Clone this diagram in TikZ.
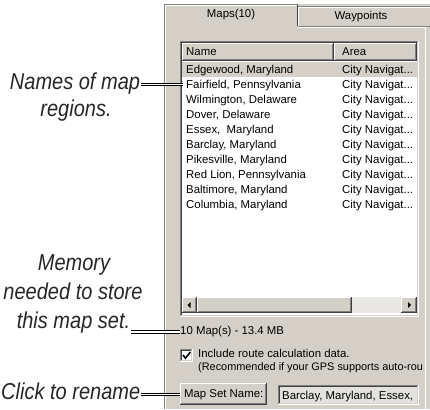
\documentclass[tikz,border=0pt]{standalone}
\usepackage{fontspec}
\setmainfont{Liberation Sans}
\newfontfamily\uifont{Liberation Sans}
\newfontfamily\labelfont[FakeStretch=0.87]{Liberation Sans}
\definecolor{face}{HTML}{D4D0C8}
\definecolor{wshade}{HTML}{808080}
\definecolor{wdark}{HTML}{404040}
\definecolor{track}{HTML}{E9E7E3}
\definecolor{lighter}{HTML}{E4E2DE}
\newcommand\rbox[4]{%
  \fill[face] (#1,#2) rectangle (#3,#4);
  \draw[white] (#1+0.5,#4-1) -- (#1+0.5,#2+0.5) -- (#3-1,#2+0.5);
  \draw[wdark] (#1,#4-0.5) -- (#3-0.5,#4-0.5) -- (#3-0.5,#2);
  \draw[wshade] (#1+1,#4-1.5) -- (#3-1.5,#4-1.5) -- (#3-1.5,#2+1);
}
\newcommand\sunkbox[5]{%
  \fill[#5] (#1,#2) rectangle (#3,#4);
  \draw[wshade] (#1+0.5,#4-1) -- (#1+0.5,#2+0.5) -- (#3-1,#2+0.5);
  \draw[wdark] (#1+1.5,#4-2) -- (#1+1.5,#2+1.5) -- (#3-2,#2+1.5);
  \draw[white] (#1,#4-0.5) -- (#3-0.5,#4-0.5) -- (#3-0.5,#2);
  \draw[face] (#1+1,#4-1.5) -- (#3-1.5,#4-1.5) -- (#3-1.5,#2+1);
}
\begin{document}
\begin{tikzpicture}[x=1pt,y=-1pt,
  ui/.style={font=\uifont\fontsize{11.4}{13}\selectfont, inner sep=0pt, text=black},
  lbl/.style={font=\labelfont\itshape\fontsize{23}{27}\selectfont, inner sep=1pt, text=black!85},
  leader/.style={line width=0.9pt, double=white, double distance=1.3pt}]
\useasboundingbox (0,0) rectangle (430,409);
% window background
\fill[face] (164,4) rectangle (430,409);
\draw[wshade] (164.5,409) -- (164.5,4.5) -- (297.5,4.5);
\draw[white] (165.5,409) -- (165.5,5.5) -- (296.5,5.5);
% tabs
\draw[wdark] (297.5,5) -- (297.5,26);
\draw[wshade] (298,6.5) -- (430,6.5);
\draw[white] (298.5,26) -- (298.5,7.5) -- (430,7.5);
\draw[wshade] (298,26.5) -- (430,26.5);
\draw[white] (298,27.5) -- (425,27.5);
\draw[white] (425.5,27) -- (425.5,409);
\node[ui] (tabmaps) at (231,15) {Maps(10)};
\node[ui] (tabway) at (361,17) {Waypoints};
% list box
\sunkbox{180}{41}{419}{317}{white}
\rbox{182}{43}{334}{61}
\rbox{334}{43}{417}{61}
\node[ui, anchor=base west] (hname) at (186,56) {Name};
\node[ui, anchor=base west] (harea) at (342,56) {Area};
\fill[face] (182,62.5) rectangle (417,77);
\foreach \i/\t in {0/{Edgewood, Maryland},1/{Fairfield, Pennsylvania},2/{Wilmington, Delaware},3/{Dover, Delaware},4/{Essex,~ Maryland},5/{Barclay, Maryland},6/{Pikesville, Maryland},7/{Red Lion, Pennsylvania},8/{Baltimore, Maryland},9/{Columbia, Maryland}}{
  \node[ui, anchor=base west] (row\i) at (186,{74+14.9*\i}) {\t};
  \node[ui, anchor=base west] (area\i) at (342,{74+14.9*\i}) {City Navigat...};
}
% scrollbar
\fill[track] (197,297) rectangle (401,313);
\rbox{182}{297}{197}{313}
\rbox{197}{297}{352}{313}
\rbox{401}{297}{417}{313}
\fill[black] (187.5,305) -- (190.5,302) -- (190.5,308) -- cycle;
\fill[black] (411,305) -- (408,302) -- (408,308) -- cycle;
% memory text
\node[ui, anchor=west] (maps10) at (180,332) {10 Map(s) - 13.4 MB};
% checkbox
\sunkbox{180}{349}{193}{362}{white}
\draw[line width=1.6pt] (183,355) -- (185.5,358.2) -- (190.3,352);
\node[ui, anchor=base west] (incl) at (198,357) {Include route calculation data.};
\node[ui, anchor=base west, font=\uifont\fontsize{10.9}{13}\selectfont] (recom) at (198,370) {(Recommended if your GPS supports auto-rou};
% map set name button and field
\rbox{180}{383}{267}{405}
\node[ui, minimum width=87pt, minimum height=22pt, anchor=north west] (msn) at (180,383) {Map Set Name:};
\sunkbox{278}{385}{419}{405}{lighter}
\node[ui, anchor=base west] (field) at (282,399) {Barclay, Maryland, Essex,};
% labels
\node[lbl, anchor=base] (namesA) at (75,90) {Names of map};
\node[lbl, anchor=base] (namesB) at (76,116) {regions.};
\node[lbl, anchor=base] (memA) at (74,270) {Memory};
\node[lbl, anchor=base] (memB) at (73,299) {needed to store};
\node[lbl, anchor=base] (memC) at (73.5,328) {this map set.};
\node[lbl, anchor=base west] (click) at (0,399) {Click to rename};
% leaders
\draw[leader] ([yshift=1.5pt]namesA.east |- row1.west) -- ([xshift=-3pt,yshift=1.5pt]row1.west);
\draw[leader] (memC.east |- maps10.west) -- (maps10.west);
\draw[leader] (click.east |- msn.west) -- (msn.west);
\end{tikzpicture}
\end{document}
